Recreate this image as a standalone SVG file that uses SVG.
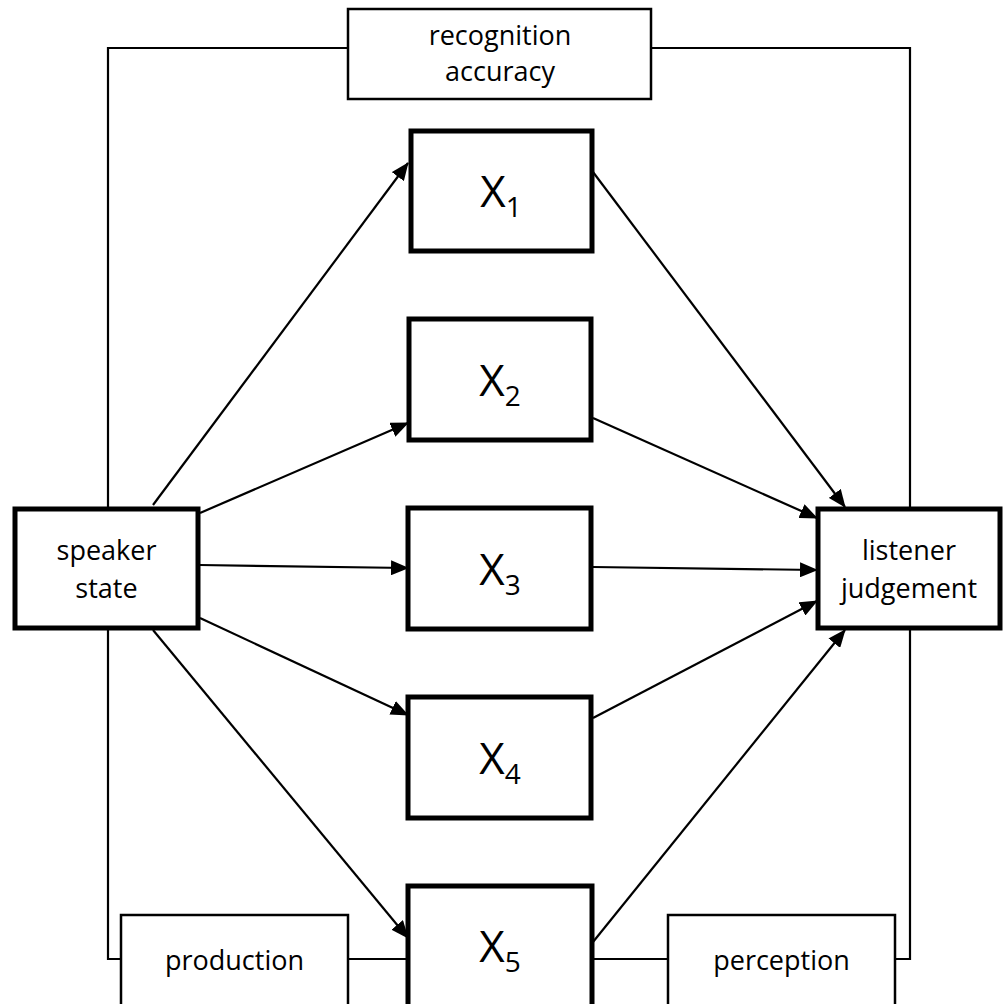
<svg xmlns="http://www.w3.org/2000/svg" width="1008" height="1004" viewBox="0 0 1008 1004">
<style>
.thick{fill:#fff;stroke:#000;stroke-width:5}
.thin{fill:#fff;stroke:#000;stroke-width:2.5}
.ln{fill:none;stroke:#000;stroke-width:2.2}
.arr{fill:none;stroke:#000;stroke-width:2.2;marker-end:url(#ah)}
text{font-family:"Open Sans","Liberation Sans",sans-serif;fill:#000;text-anchor:middle}
.lbl{font-size:27px}
.x{font-size:44px}
.sub{font-size:28px}
</style>
<defs>
<marker id="ah" markerUnits="userSpaceOnUse" markerWidth="19" markerHeight="15" refX="17" refY="7.5" orient="auto">
<path d="M0,0 L18,7.5 L0,15 Z" fill="#000"/>
</marker>
</defs>
<rect width="1008" height="1004" fill="#fff"/>
<g id="connectors">
<polyline class="ln" points="348,48 108,48 108,509"/>
<polyline class="ln" points="651,48 910,48 910,509"/>
<polyline class="ln" points="108,628 108,959 121,959"/>
<polyline class="ln" points="910,628 910,959 895,959"/>
<line class="ln" x1="348" y1="959" x2="408" y2="959"/>
<line class="ln" x1="592" y1="959" x2="668" y2="959"/>
<line class="arr" x1="153" y1="505" x2="408" y2="163"/>
<line class="arr" x1="200" y1="513" x2="408" y2="423"/>
<line class="arr" x1="200" y1="565" x2="408" y2="568"/>
<line class="arr" x1="200" y1="618" x2="408" y2="715"/>
<line class="arr" x1="153" y1="630" x2="408" y2="938"/>
<line class="arr" x1="593" y1="172" x2="845" y2="507"/>
<line class="arr" x1="593" y1="418" x2="817" y2="518"/>
<line class="arr" x1="593" y1="567" x2="817" y2="570"/>
<line class="arr" x1="593" y1="718" x2="817" y2="601"/>
<line class="arr" x1="593" y1="942" x2="845" y2="630"/>
</g>
<g id="recognition">
<rect class="thin" x="348" y="9" width="303" height="90"/>
<text class="lbl" x="500" y="45">recognition</text>
<text class="lbl" x="500" y="81">accuracy</text>
</g>
<g id="speaker">
<rect class="thick" x="15" y="509" width="183" height="119"/>
<text class="lbl" x="106.5" y="560">speaker</text>
<text class="lbl" x="106.5" y="598">state</text>
</g>
<g id="listener">
<rect class="thick" x="818" y="509" width="182" height="119"/>
<text class="lbl" x="909" y="560">listener</text>
<text class="lbl" x="909" y="598">judgement</text>
</g>
<g id="x1">
<rect class="thick" x="411" y="131" width="181" height="120"/>
<text x="501" y="207"><tspan class="x">X</tspan><tspan class="sub" dy="10">1</tspan></text>
</g>
<g id="x2">
<rect class="thick" x="409" y="319" width="182" height="121"/>
<text x="500" y="396"><tspan class="x">X</tspan><tspan class="sub" dy="10">2</tspan></text>
</g>
<g id="x3">
<rect class="thick" x="408" y="508" width="183" height="121"/>
<text x="500" y="585"><tspan class="x">X</tspan><tspan class="sub" dy="10">3</tspan></text>
</g>
<g id="x4">
<rect class="thick" x="408" y="697" width="183" height="121"/>
<text x="500" y="774"><tspan class="x">X</tspan><tspan class="sub" dy="10">4</tspan></text>
</g>
<g id="x5">
<rect class="thick" x="408" y="886" width="184" height="130"/>
<text x="500" y="962"><tspan class="x">X</tspan><tspan class="sub" dy="10">5</tspan></text>
</g>
<g id="production">
<rect class="thin" x="121" y="915" width="227" height="100"/>
<text class="lbl" x="234.5" y="970">production</text>
</g>
<g id="perception">
<rect class="thin" x="668" y="915" width="227" height="100"/>
<text class="lbl" x="781.5" y="970">perception</text>
</g>
</svg>
